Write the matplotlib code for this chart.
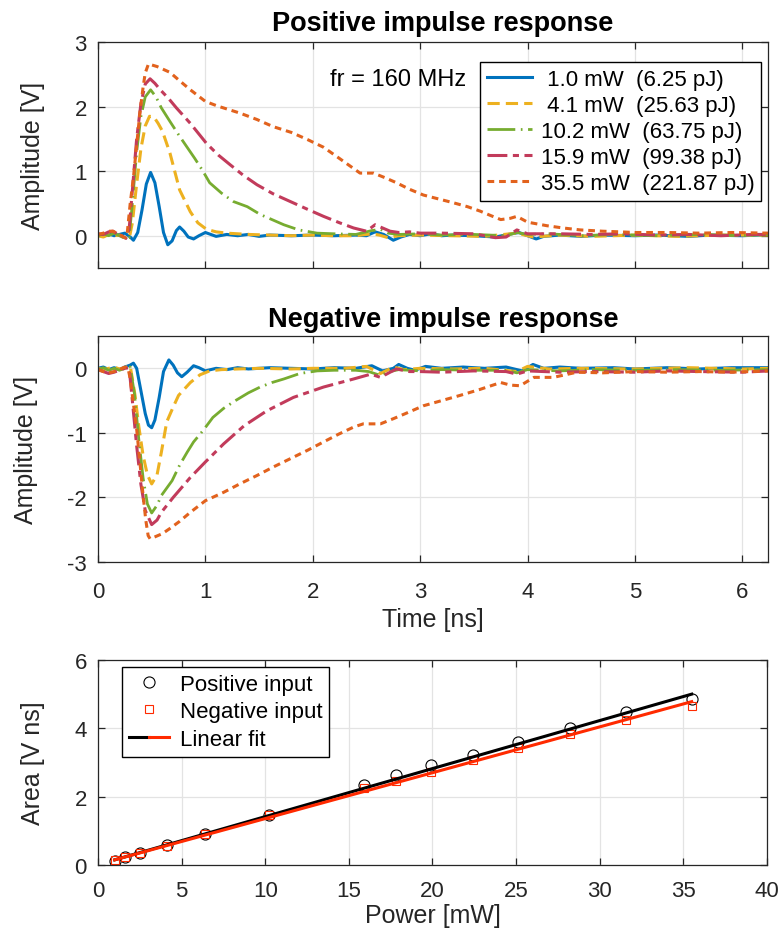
import matplotlib
matplotlib.use("Agg")
import matplotlib.pyplot as plt
from matplotlib.legend_handler import HandlerTuple

plt.rcParams['font.family'] = ['Liberation Sans', 'DejaVu Sans']

# ---------------- data ----------------
labels = [' 1.0 mW  (6.25 pJ)', ' 4.1 mW  (25.63 pJ)', '10.2 mW  (63.75 pJ)',
          '15.9 mW  (99.38 pJ)', '35.5 mW  (221.87 pJ)']

# positive impulse response
pos_t_1 = [0, 0.05, 0.1, 0.15, 0.2, 0.25, 0.3, 0.33, 0.37, 0.41, 0.45, 0.49, 0.53, 0.57, 0.61, 0.65,
           0.69, 0.73, 0.76, 0.8, 0.84, 0.89, 0.94, 1.0, 1.05, 1.1, 1.2, 1.3, 1.4, 1.5, 1.6, 1.8, 2.0,
           2.2, 2.4, 2.5, 2.58, 2.66, 2.75, 2.82, 2.9, 3.0, 3.1, 3.2, 3.3, 3.5, 3.7, 3.85, 3.92, 4.0,
           4.08, 4.15, 4.3, 4.5, 4.7, 5.0, 5.2, 5.5, 5.7, 6.0, 6.25]
pos_a_1 = [0.02, 0.0, 0.03, 0.0, 0.02, 0.04, -0.02, -0.07, 0.05, 0.4, 0.8, 0.98, 0.82, 0.45, 0.05, -0.14,
           -0.08, 0.08, 0.135, 0.07, -0.02, -0.05, 0.0, 0.05, 0.02, -0.01, 0.02, 0.0, 0.02, -0.01, 0.01,
           0.0, 0.01, 0.0, 0.01, 0.0, 0.06, 0.02, -0.07, -0.02, 0.02, 0.0, 0.03, 0.0, 0.01, 0.0, -0.02,
           0.03, 0.05, 0.0, -0.05, -0.01, 0.01, -0.01, 0.01, 0.0, 0.01, -0.01, 0.01, 0.0, 0.02]

pos_t_2 = [0, 0.05, 0.1, 0.15, 0.2, 0.25, 0.29, 0.32, 0.36, 0.4, 0.44, 0.48, 0.52, 0.56, 0.6, 0.67,
           0.76, 0.86, 0.93, 1.01, 1.1, 1.2, 1.3, 1.4, 1.6, 1.8, 2.0, 2.2, 2.4, 2.55, 2.62, 2.7, 2.8,
           3.0, 3.3, 3.6, 3.9, 4.05, 4.3, 4.6, 5.0, 5.4, 5.8, 6.25]
pos_a_2 = [0.0, -0.02, 0.02, 0.0, 0.01, -0.03, -0.05, 0.2, 0.8, 1.35, 1.7, 1.85, 1.84, 1.74, 1.62, 1.28,
           0.71, 0.37, 0.2, 0.1, 0.06, 0.04, 0.03, 0.02, 0.01, 0.0, 0.01, 0.0, 0.0, 0.03, 0.01, -0.03,
           0.0, 0.01, 0.0, -0.01, 0.04, -0.02, 0.01, -0.01, 0.01, -0.01, 0.01, 0.01]

pos_t_3 = [0, 0.05, 0.1, 0.15, 0.2, 0.25, 0.29, 0.32, 0.36, 0.4, 0.44, 0.49, 0.54, 0.59, 0.67, 0.76,
           0.83, 0.9, 0.97, 1.04, 1.15, 1.26, 1.39, 1.51, 1.62, 1.73, 1.87, 2.04, 2.2, 2.4, 2.55, 2.63,
           2.7, 2.8, 3.0, 3.2, 3.5, 3.8, 3.9, 4.0, 4.2, 4.5, 4.8, 5.2, 5.6, 6.0, 6.25]
pos_a_3 = [0.0, 0.03, 0.0, 0.04, 0.0, -0.04, -0.03, 0.5, 1.3, 1.85, 2.15, 2.26, 2.15, 1.98, 1.77, 1.54,
           1.37, 1.2, 1.02, 0.82, 0.66, 0.53, 0.45, 0.33, 0.25, 0.17, 0.09, 0.04, 0.03, 0.02, 0.08, 0.1,
           0.04, 0.02, 0.03, 0.01, 0.02, 0.0, 0.05, 0.02, 0.03, 0.0, 0.02, 0.0, 0.02, 0.0, 0.02]

pos_t_4 = [0, 0.05, 0.1, 0.14, 0.18, 0.22, 0.26, 0.29, 0.32, 0.36, 0.4, 0.44, 0.485, 0.53, 0.58, 0.66,
           0.73, 0.86, 1.01, 1.12, 1.23, 1.35, 1.48, 1.63, 1.79, 1.95, 2.1, 2.25, 2.38, 2.5, 2.58, 2.65,
           2.72, 2.8, 2.9, 3.0, 3.2, 3.5, 3.7, 3.8, 3.9, 4.0, 4.3, 4.6, 4.9, 5.2, 5.5, 5.8, 6.1, 6.25]
pos_a_4 = [0.03, 0.02, 0.06, 0.07, 0.03, 0.0, -0.04, 0.1, 0.7, 1.5, 2.05, 2.35, 2.43, 2.36, 2.26, 2.12,
           1.98, 1.74, 1.43, 1.25, 1.10, 0.94, 0.79, 0.65, 0.53, 0.41, 0.30, 0.2, 0.12, 0.07, 0.17, 0.12,
           0.07, 0.05, 0.06, 0.04, 0.04, 0.03, -0.03, -0.02, 0.09, 0.03, 0.03, 0.02, 0.03, 0.01, 0.02,
           0.0, 0.02, 0.02]

pos_t_5 = [0, 0.05, 0.1, 0.14, 0.18, 0.22, 0.25, 0.27, 0.3, 0.33, 0.36, 0.39, 0.42, 0.44, 0.47, 0.55,
           0.67, 0.76, 0.86, 1.0, 1.11, 1.32, 1.48, 1.63, 1.8, 1.95, 2.1, 2.22, 2.33, 2.44, 2.565, 2.67,
           2.78, 2.9, 3.03, 3.17, 3.31, 3.44, 3.56, 3.66, 3.75, 3.84, 3.9, 4.0, 4.18, 4.33, 4.49, 4.7,
           4.86, 5.0, 5.3, 5.6, 5.9, 6.25]
pos_a_5 = [0.02, 0.04, 0.07, 0.07, 0.03, 0.0, -0.03, 0.0, 0.5, 0.9, 1.4, 1.9, 2.3, 2.52, 2.66, 2.62,
           2.53, 2.4, 2.26, 2.08, 2.01, 1.9, 1.8, 1.69, 1.6, 1.49, 1.37, 1.23, 1.1, 0.97, 0.97, 0.9,
           0.82, 0.72, 0.63, 0.57, 0.51, 0.45, 0.38, 0.31, 0.25, 0.27, 0.30, 0.21, 0.155, 0.12, 0.09,
           0.07, 0.06, 0.05, 0.05, 0.04, 0.05, 0.04]

# negative impulse response
neg_t_1 = [0, 0.05, 0.1, 0.15, 0.2, 0.25, 0.3, 0.33, 0.36, 0.4, 0.44, 0.47, 0.5, 0.53, 0.57, 0.61,
           0.66, 0.7, 0.74, 0.78, 0.83, 0.89, 0.94, 1.0, 1.05, 1.1, 1.2, 1.3, 1.4, 1.6, 1.8, 2.0, 2.2,
           2.4, 2.55, 2.65, 2.75, 2.8, 2.88, 2.95, 3.05, 3.2, 3.4, 3.6, 3.8, 3.95, 4.05, 4.15, 4.3, 4.5,
           4.8, 5.0, 5.3, 5.6, 5.9, 6.25]
neg_a_1 = [0.0, 0.02, -0.02, 0.01, -0.02, 0.02, 0.05, 0.08, 0.0, -0.35, -0.7, -0.88, -0.92, -0.8,
           -0.45, -0.05, 0.13, 0.05, -0.07, -0.13, -0.06, 0.04, 0.01, -0.04, -0.02, 0.0, -0.02, 0.01,
           -0.01, 0.01, 0.0, -0.01, 0.01, 0.0, 0.04, -0.04, 0.0, 0.06, 0.0, -0.03, 0.03, 0.0, 0.02, 0.0,
           0.02, -0.04, 0.06, 0.0, 0.02, 0.0, 0.01, -0.01, 0.01, -0.01, 0.01, 0.01]

neg_t_2 = [0, 0.05, 0.1, 0.15, 0.2, 0.25, 0.3, 0.345, 0.38, 0.42, 0.46, 0.5, 0.55, 0.59, 0.64, 0.7,
           0.75, 0.86, 0.95, 1.04, 1.15, 1.3, 1.5, 1.8, 2.0, 2.3, 2.5, 2.63, 2.75, 2.85, 3.0, 3.3, 3.6,
           3.9, 4.0, 4.2, 4.5, 5.0, 5.5, 6.0, 6.25]
neg_a_2 = [0.0, -0.02, 0.0, 0.02, -0.01, 0.01, 0.04, -0.42, -0.9, -1.35, -1.65, -1.79, -1.65, -1.3,
           -0.83, -0.6, -0.42, -0.22, -0.1, -0.04, -0.02, -0.01, 0.0, -0.01, 0.0, 0.0, 0.03, -0.08, 0.02,
           -0.02, 0.0, -0.01, 0.0, -0.05, 0.03, -0.01, 0.0, -0.01, 0.01, -0.01, 0.0]

neg_t_3 = [0, 0.05, 0.1, 0.15, 0.2, 0.25, 0.3, 0.34, 0.38, 0.42, 0.46, 0.5, 0.55, 0.59, 0.69, 0.76,
           0.83, 0.89, 0.98, 1.07, 1.17, 1.28, 1.4, 1.51, 1.62, 1.73, 1.88, 2.04, 2.2, 2.4, 2.52, 2.63,
           2.72, 2.8, 3.0, 3.2, 3.5, 3.8, 3.9, 4.0, 4.3, 4.6, 5.0, 5.4, 5.8, 6.25]
neg_a_3 = [-0.02, 0.01, -0.03, 0.0, -0.03, 0.0, 0.02, -0.4, -1.1, -1.7, -2.1, -2.24, -2.12, -1.97,
           -1.74, -1.5, -1.3, -1.14, -0.96, -0.76, -0.62, -0.5, -0.38, -0.29, -0.22, -0.165, -0.08,
           -0.04, -0.03, -0.03, -0.05, -0.11, -0.05, -0.02, -0.04, -0.02, -0.03, -0.03, -0.07, -0.02,
           -0.04, -0.02, -0.03, -0.02, -0.03, -0.02]

neg_t_4 = [0, 0.05, 0.1, 0.15, 0.2, 0.25, 0.29, 0.32, 0.36, 0.4, 0.44, 0.5, 0.55, 0.59, 0.7, 0.86,
           1.0, 1.17, 1.36, 1.57, 1.82, 2.1, 2.38, 2.54, 2.63, 2.72, 2.78, 2.9, 3.0, 3.2, 3.5, 3.8, 3.9,
           4.0, 4.3, 4.6, 5.0, 5.3, 5.6, 6.0, 6.25]
neg_a_4 = [-0.02, -0.05, -0.08, -0.06, -0.03, 0.0, 0.01, -0.5, -1.2, -1.8, -2.2, -2.42, -2.35, -2.23,
           -2.0, -1.69, -1.45, -1.17, -0.89, -0.66, -0.45, -0.29, -0.165, -0.09, -0.14, -0.06, -0.01,
           -0.05, -0.05, -0.06, -0.04, -0.05, -0.09, -0.04, -0.06, -0.05, -0.06, -0.04, -0.05, -0.06,
           -0.04]

neg_t_5 = [0, 0.05, 0.1, 0.15, 0.2, 0.25, 0.28, 0.3, 0.33, 0.36, 0.39, 0.42, 0.445, 0.467, 0.485,
           0.53, 0.6, 0.67, 0.76, 0.86, 1.0, 1.17, 1.32, 1.48, 1.63, 1.79, 1.95, 2.1, 2.24, 2.38, 2.47,
           2.63, 2.75, 2.85, 3.03, 3.2, 3.37, 3.55, 3.75, 3.84, 3.93, 4.06, 4.24, 4.46, 4.7, 5.0, 5.3,
           5.6, 5.9, 6.25]
neg_a_5 = [-0.02, -0.05, -0.07, -0.05, -0.02, 0.02, 0.0, -0.16, -0.55, -0.94, -1.45, -1.97, -2.35,
           -2.59, -2.64, -2.61, -2.56, -2.48, -2.37, -2.23, -2.05, -1.92, -1.79, -1.66, -1.53, -1.40,
           -1.27, -1.14, -1.02, -0.91, -0.86, -0.86, -0.78, -0.71, -0.58, -0.5, -0.42, -0.33, -0.22,
           -0.26, -0.27, -0.14, -0.14, -0.06, -0.07, -0.05, -0.06, -0.05, -0.06, -0.04]

pos_t = [pos_t_1, pos_t_2, pos_t_3, pos_t_4, pos_t_5]
pos_a = [pos_a_1, pos_a_2, pos_a_3, pos_a_4, pos_a_5]
neg_t = [neg_t_1, neg_t_2, neg_t_3, neg_t_4, neg_t_5]
neg_a = [neg_a_1, neg_a_2, neg_a_3, neg_a_4, neg_a_5]

# area vs power
power = [1.0, 1.6, 2.5, 4.1, 6.4, 10.2, 15.9, 17.8, 19.9, 22.4, 25.1, 28.2, 31.6, 35.5]
area_pos = [0.13, 0.22, 0.35, 0.57, 0.91, 1.47, 2.34, 2.63, 2.93, 3.22, 3.59, 4.01, 4.47, 4.86]
area_neg = [0.15, 0.22, 0.34, 0.56, 0.90, 1.45, 2.24, 2.46, 2.71, 3.07, 3.42, 3.83, 4.24, 4.66]
fit_power = [1.0, 35.5]
fit_pos = [0.15, 5.0]
fit_neg = [0.15, 4.78]

# ---------------- style ----------------
colors = ['#0072BD', '#EDB120', '#77AC30', '#C23B5B', '#E2621D']
styles = [dict(lw=2.2, ls='-'),
          dict(lw=2.2, ls=(0, (4.0, 2.0))),
          dict(lw=2.0, ls=(0, (10, 2.0, 0.6, 2.0))),
          dict(lw=2.2, ls=(0, (6.5, 1.8, 2.0, 1.8))),
          dict(lw=2.2, ls=(0, (2.2, 1.6)))]

AX_C = '#262626'
GRID_C = '#E3E3E3'
TICK_FS = 16
LAB_FS = 18
TITLE_FS = 19.5
LEG_FS = 16

fig = plt.figure(figsize=(7.82, 9.37), dpi=100)


def style_axes(ax):
    ax.grid(True, color=GRID_C, lw=0.9)
    ax.set_axisbelow(True)
    for s in ax.spines.values():
        s.set_color(AX_C)
        s.set_linewidth(0.9)
    ax.tick_params(direction='in', top=True, right=True, length=5, width=0.9,
                   colors=AX_C, labelsize=TICK_FS)
    ax.tick_params(axis='x', pad=14)
    ax.tick_params(axis='y', pad=8)


ax1 = fig.add_axes([0.1253, 0.7129, 0.857, 0.2412])
ax2 = fig.add_axes([0.1253, 0.3991, 0.857, 0.2412])
ax3 = fig.add_axes([0.1253, 0.0758, 0.8555, 0.2188])

handles = []
for i in range(5):
    h, = ax1.plot(pos_t[i], pos_a[i], color=colors[i], label=labels[i], **styles[i])
    handles.append(h)
    ax2.plot(neg_t[i], neg_a[i], color=colors[i], **styles[i])

for ax in (ax1, ax2):
    ax.set_xlim(0, 6.24)
    ax.set_xticks(range(0, 7))
    style_axes(ax)
    ax.set_ylabel('Amplitude [V]', fontsize=LAB_FS, color=AX_C, labelpad=21)

ax1.set_ylim(-0.5, 3)
ax1.set_yticks([0, 1, 2, 3])
ax1.set_xticklabels([])
ax2.set_ylim(-3, 0.5)
ax2.set_yticks([-3, -2, -1, 0])
ax2.set_yticklabels(['-3', '-2', '-1', '0'])
ax2.set_xlabel('Time [ns]', fontsize=LAB_FS, color=AX_C, labelpad=3)

ax1.set_title('Positive impulse response', fontsize=TITLE_FS, fontweight='bold', x=0.515, pad=9)
ax2.set_title('Negative impulse response', fontsize=TITLE_FS, fontweight='bold', x=0.515, pad=7)

ax1.text(0.346, 0.836, 'fr = 160 MHz', transform=ax1.transAxes, fontsize=17, va='center', ha='left')

leg1 = ax1.legend(handles=handles, loc='upper right', bbox_to_anchor=(0.99, 0.912), borderaxespad=0,
                  fontsize=LEG_FS, frameon=True, fancybox=False, framealpha=1, edgecolor='black',
                  handlelength=2.05, handletextpad=0.4, labelspacing=0.23, borderpad=0.3)
leg1.get_frame().set_linewidth(1.0)

# bottom panel
h_pos, = ax3.plot(power, area_pos, ls='none', marker='o', ms=8, mfc='none', mec='black', mew=0.8)
h_neg, = ax3.plot(power, area_neg, ls='none', marker='s', ms=6, mfc='none', mec='#FF2A00', mew=0.8)
h_fp, = ax3.plot(fit_power, fit_pos, color='black', lw=2.2)
h_fn, = ax3.plot(fit_power, fit_neg, color='#FF2A00', lw=2.2)
ax3.set_xlim(0, 40)
ax3.set_ylim(0, 6)
ax3.set_xticks(range(0, 41, 5))
ax3.set_yticks([0, 2, 4, 6])
style_axes(ax3)
ax3.tick_params(axis='x', pad=11)
ax3.set_xlabel('Power [mW]', fontsize=LAB_FS, color=AX_C, labelpad=1)
ax3.set_ylabel('Area [V ns]', fontsize=LAB_FS, color=AX_C, labelpad=21)

leg3 = ax3.legend([h_pos, h_neg, (h_fp, h_fn)], ['Positive input', 'Negative input', 'Linear fit'],
                  handler_map={tuple: HandlerTuple(ndivide=None, pad=0)},
                  loc='upper left', bbox_to_anchor=(0.036, 0.966), borderaxespad=0,
                  fontsize=LEG_FS, frameon=True, fancybox=False, framealpha=1, edgecolor='black',
                  handlelength=1.8, handletextpad=0.5, labelspacing=0.3, borderpad=0.3)
leg3.get_frame().set_linewidth(1.0)

fig.savefig('out.png', dpi=100)
